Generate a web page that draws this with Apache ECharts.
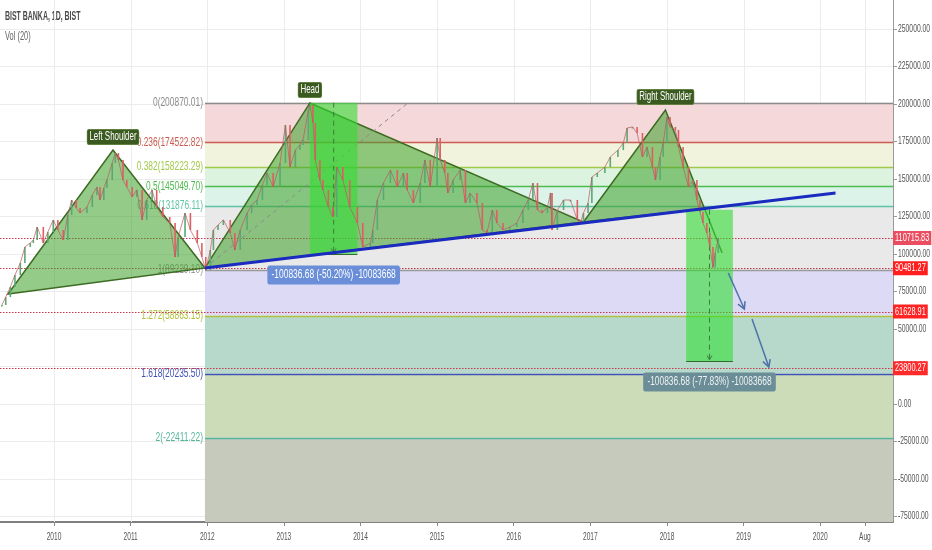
<!DOCTYPE html>
<html><head><meta charset="utf-8">
<script src="https://cdn.jsdelivr.net/npm/echarts@6/dist/echarts.min.js"></script>
<style>html,body{margin:0;padding:0;background:#fff}#c{width:932px;height:550px}</style>
</head><body><div id="c"></div>
<script>
// ---------------- data ----------------
const years = [2009.32,2009.37,2009.43,2009.49,2009.56,2009.62,2009.69,2009.73,2009.78,2009.86,2009.92,2009.99,
2010.05,2010.12,2010.18,2010.23,2010.29,2010.34,2010.43,2010.50,2010.56,2010.60,2010.65,2010.69,2010.76,2010.80,2010.84,2010.90,2010.95,
2011.02,2011.08,2011.15,2011.21,2011.28,2011.34,2011.42,2011.51,2011.58,2011.62,2011.71,2011.78,2011.87,2011.93,2011.98,
2012.04,2012.08,2012.14,2012.21,2012.30,2012.36,2012.43,2012.52,2012.58,2012.65,2012.72,2012.78,2012.86,2012.95,
2013.02,2013.08,2013.15,2013.21,2013.25,2013.32,2013.34,2013.38,2013.41,2013.47,2013.51,2013.58,2013.64,2013.69,2013.77,2013.86,2013.96,
2014.03,2014.13,2014.16,2014.22,2014.30,2014.39,2014.48,2014.56,2014.61,2014.69,2014.78,2014.84,2014.91,
2015.00,2015.04,2015.10,2015.14,2015.21,2015.30,2015.37,2015.43,2015.52,2015.59,2015.65,2015.72,2015.78,2015.86,2015.95,
2016.04,2016.12,2016.19,2016.25,2016.31,2016.37,2016.44,2016.48,2016.50,2016.57,2016.65,2016.74,2016.83,2016.87,2016.91,2016.97,
2017.02,2017.09,2017.19,2017.26,2017.36,2017.43,2017.48,2017.55,2017.61,2017.68,2017.74,2017.81,2017.85,2017.91,2017.95,
2018.00,2018.04,2018.11,2018.15,2018.21,2018.28,2018.34,2018.39,2018.43,2018.47,2018.52,2018.56,2018.60,2018.63,2018.67];
const closes = [66000,71300,78000,86000,94000,104700,107300,109300,118000,107300,114700,122700,
116000,109300,126000,136000,130700,127300,131300,139300,144700,136000,144000,149300,160700,167300,162700,149300,144700,
138000,142700,122700,136000,142700,131300,124700,120700,98000,111300,127300,116000,107300,98000,89300,
102700,116000,119300,122700,114000,102700,116000,127300,132700,136000,146000,154000,144700,160700,
186000,158000,169300,172700,176000,196000,199300,187300,162700,149300,142700,131300,124700,158000,149300,131300,120700,
104700,107300,116000,136000,147300,156000,144700,154000,142700,134000,147300,162700,144700,
177300,162700,154000,140700,149300,156000,134000,140700,134000,116000,114000,129300,120700,116000,118000,
120700,129300,136000,147300,129300,127300,131300,140700,116000,129300,136000,136000,122700,120700,127300,134000,
151300,154000,158000,164700,169300,174000,184000,184700,180700,164700,171300,158000,149300,164700,174000,
191300,184700,182700,171300,158000,144700,149300,136000,128000,120700,114000,104700,91000,100700,110700];

const xTickValues = [2010,2011,2012,2013,2014,2015,2016,2017,2018,2019,2020,2020.583];
const xTickLabels = ['2010','2011','2012','2013','2014','2015','2016','2017','2018','2019','2020','Aug'];
const yTicks = [-75000,-50000,-25000,0,25000,50000,75000,100000,125000,150000,175000,200000,225000,250000];

const fibRatios = ['0','0.236','0.382','0.5','0.618','1','1.272','1.618','2'];
const fibPrices = [200870.01,174522.82,158223.29,145049.70,131876.11,89229.10,58863.15,20235.50,-22411.22];
const fibStart = 2011.97;

const priceLevels = [110715.83, 90481.27, 61628.91, 23800.27];

const leftShoulder = [[2009.40,73300],[2010.77,169300],[2011.97,90700]];
const head = [[2011.97,90700],[2013.34,200700],[2016.91,121300]];
const rightShoulder = [[2016.91,121300],[2017.98,196000],[2018.49,130300]];
const rightShoulderTail = [[2018.49,130300],[2018.72,100700]];
const patternLabels = ['Left Shoulder','Head','Right Shoulder'];
const neckline = [[2011.97,90700],[2020.20,140700]];
const fibTrend = [[2011.97,90700],[2014.62,200700]];

const ranges = [
  {start:2013.34, end:2013.96, top:200870.01, change:-100836.68, label:'-100836.68 (-50.20%) -10083668'},
  {start:2018.25, end:2018.86, top:129560.10, change:-100836.68, label:'-100836.68 (-77.83%) -10083668'}
];
const arrows = [
  [[2018.80,87300],[2019.01,63300]],
  [[2019.11,56700],[2019.33,24700]]
];

// ---------------- styles ----------------
const FONT = '"Liberation Sans", Arial, sans-serif';
const fibLineColors = ['#8c8c8c','#cc5b50','#a3c94a','#4dbb4d','#5cc4a4','#9a9a9a','#b2c23e','#3f51b5','#55b59a'];
const fibBandColors = ['#f4d8da','#f1f3dd','#dcf3df','#dcf3ea','#e9e9e9','#dcdaf5','#b6d9cc','#cddcb8','#c5cabd'];
const priceLabelColors = ['#ea4d60','#ff1e1e','#ff2323','#ff2a2a'];
const X_MIN = 2009.295, X_MAX = 2020.95, Y_MIN = -78667, Y_MAX = 269333;

const chart = echarts.init(document.getElementById('c'));
const single = [[X_MIN, Y_MIN]];

function crisp(v){ return Math.round(v) + 0.5; }
function hLine(api, v, x0, x1, style){
  const a = api.coord([x0, v]), b = api.coord([x1, v]);
  const y = crisp(a[1]);
  return {type:'line', shape:{x1:a[0], y1:y, x2:b[0], y2:y}, style};
}
function arrowHead(p, q, len, color, w){
  const ang = Math.atan2(q[1]-p[1], q[0]-p[0]);
  const a1 = ang + Math.PI*0.84, a2 = ang - Math.PI*0.84;
  return {type:'polyline', shape:{points:[[q[0]+len*Math.cos(a1), q[1]+len*Math.sin(a1)], q, [q[0]+len*Math.cos(a2), q[1]+len*Math.sin(a2)]]},
          style:{stroke:color, fill:null, lineWidth:w}};
}
function txt(x, y, text, opt){
  return {type:'text', x, y, scaleX: opt.scaleX || 1, z2: 10,
    style: Object.assign({text, textAlign: opt.align || 'left', textVerticalAlign: opt.valign || 'middle',
      font: opt.font, fill: opt.fill || '#555'}, opt.box || {})};
}

const series = [
  // grid lines
  {type:'custom', data:single, encode:{x:0,y:1}, clip:true, z:1, silent:true,
   renderItem(params, api){
     const ch = [];
     xTickValues.forEach(t => {
       const a = api.coord([t, Y_MAX]), b = api.coord([t, Y_MIN]);
       const x = crisp(a[0]);
       ch.push({type:'line', shape:{x1:x,y1:a[1],x2:x,y2:b[1]}, style:{stroke:'#ececec', lineWidth:1}});
     });
     yTicks.forEach(v => ch.push(hLine(api, v, X_MIN, X_MAX, {stroke:'#ececec', lineWidth:1})));
     return {type:'group', children:ch};
   }},
  // fibonacci bands, lines and labels
  {type:'custom', data:single, encode:{x:0,y:1}, clip:true, z:2, silent:true,
   renderItem(params, api){
     const ch = [];
     for (let i = 0; i < fibPrices.length; i++){
       const lower = i + 1 < fibPrices.length ? fibPrices[i+1] : Y_MIN;
       const a = api.coord([fibStart, fibPrices[i]]), b = api.coord([X_MAX, lower]);
       ch.push({type:'rect', shape:{x:a[0], y:a[1], width:b[0]-a[0], height:b[1]-a[1]}, style:{fill:fibBandColors[i]}});
     }
     for (let i = 0; i < fibPrices.length; i++){
       ch.push(hLine(api, fibPrices[i], fibStart, X_MAX, {stroke:fibLineColors[i], lineWidth:1.3}));
       const p = api.coord([fibStart, fibPrices[i]]);
       ch.push(txt(p[0]-2, p[1], fibRatios[i] + '(' + fibPrices[i].toFixed(2) + ')',
         {align:'right', font:'12px ' + FONT, fill:fibLineColors[i], scaleX:0.7}));
     }
     return {type:'group', children:ch};
   }},
  // horizontal dotted price lines
  {type:'custom', data:single, encode:{x:0,y:1}, clip:true, z:3, silent:true,
   renderItem(params, api){
     return {type:'group', children: priceLevels.map(v =>
       hLine(api, v, X_MIN, X_MAX, {stroke:'#c8364a', lineWidth:1.2, lineDash:[1.5,1.5]}))};
   }},
  // head & shoulders polygons
  {type:'custom', data:single, encode:{x:0,y:1}, clip:true, z:4, silent:true,
   renderItem(params, api){
     const poly = pts => ({type:'polygon', shape:{points:pts.map(p => api.coord(p))},
       style:{fill:'rgba(60,160,40,0.55)', stroke:'#3d6b22', lineWidth:1.5}});
     const ch = [poly(leftShoulder), poly(head), poly(rightShoulder)];
     const t0 = api.coord(rightShoulderTail[0]), t1 = api.coord(rightShoulderTail[1]);
     ch.push({type:'line', shape:{x1:t0[0],y1:t0[1],x2:t1[0],y2:t1[1]}, style:{stroke:'#3d6b22', lineWidth:1.5}});
     const f0 = api.coord(fibTrend[0]), f1 = api.coord(fibTrend[1]);
     ch.push({type:'line', shape:{x1:f0[0],y1:f0[1],x2:f1[0],y2:f1[1]}, style:{stroke:'#8a8a8a', lineWidth:1, lineDash:[4,4]}});
     return {type:'group', children:ch};
   }},
  // date/price range boxes
  {type:'custom', data:single, encode:{x:0,y:1}, clip:true, z:5, silent:true,
   renderItem(params, api){
     const ch = [];
     ranges.forEach(r => {
       const a = api.coord([r.start, r.top]), b = api.coord([r.end, r.top + r.change]);
       ch.push({type:'rect', shape:{x:a[0], y:a[1], width:b[0]-a[0], height:b[1]-a[1]}, style:{fill:'rgba(50,222,50,0.6)'}});
       ch.push({type:'line', shape:{x1:a[0], y1:crisp(b[1]), x2:b[0], y2:crisp(b[1])}, style:{stroke:'#2f6a2f', lineWidth:1.2}});
       const mx = (a[0] + b[0]) / 2;
       ch.push({type:'line', shape:{x1:mx, y1:a[1], x2:mx, y2:b[1]-1}, style:{stroke:'#3b7d3b', lineWidth:1, lineDash:[5,4]}});
       ch.push(arrowHead([mx, a[1]], [mx, b[1]-1], 5, '#3b7d3b', 1));
     });
     return {type:'group', children:ch};
   }},
  // candles
  {type:'custom', clip:true, z:6, silent:true, encode:{x:0, y:[1,2]},
   data: years.map((t, i) => [t, i ? closes[i-1] : closes[i], closes[i]]),
   renderItem(params, api){
     const t = api.value(0), o = api.value(1), c = api.value(2);
     const p1 = api.coord([t, o]), p2 = api.coord([t, c]);
     const top = Math.min(p1[1], p2[1]), h = Math.max(1.5, Math.abs(p1[1]-p2[1]));
     return {type:'rect', shape:{x:p1[0]-0.8, y:top, width:1.6, height:h}, style:{fill: c >= o ? '#5aa874' : '#de5f62'}};
   }},
  {type:'line', z:6, silent:true, showSymbol:false, data: years.map((t, i) => [t, closes[i]]),
   lineStyle:{color:'rgba(185,90,95,0.7)', width:1}},
  // neckline
  {type:'line', z:7, silent:true, showSymbol:false, data: neckline, lineStyle:{color:'#1b2bbf', width:3}},
  // projection arrows, labels
  {type:'custom', data:single, encode:{x:0,y:1}, clip:false, z:8, silent:true,
   renderItem(params, api){
     const ch = [];
     arrows.forEach(ar => {
       const p = api.coord(ar[0]), q = api.coord(ar[1]);
       ch.push({type:'line', shape:{x1:p[0],y1:p[1],x2:q[0],y2:q[1]}, style:{stroke:'#4d72a8', lineWidth:1.5}});
       ch.push(arrowHead(p, q, 8, '#4d72a8', 1.5));
     });
     [leftShoulder[1], head[1], rightShoulder[1]].forEach((apex, i) => {
       const p = api.coord(apex);
       ch.push(txt(p[0], p[1]-6, patternLabels[i], {align:'center', valign:'bottom', font:'12px ' + FONT, fill:'#ffffff', scaleX:0.66,
         box:{backgroundColor:'#3b5a20', borderColor:'#62803f', borderWidth:1, padding:[1,3,1,3], borderRadius:2}}));
     });
     ranges.forEach((r, i) => {
       const a = api.coord([r.start, r.top]), b = api.coord([r.end, r.top + r.change]);
       ch.push(txt((a[0]+b[0])/2, b[1]+21, r.label, {align:'center', valign:'middle', font:'12px ' + FONT,
         fill: i === 0 ? '#ffffff' : '#eef2f2', scaleX:0.7,
         box:{backgroundColor: i === 0 ? '#6a8fd8' : '#6b8d97', padding:[4,6,3,6], borderRadius:3}}));
     });
     return {type:'group', children:ch};
   }},
  // axis labels drawn narrow, price tags
  {type:'custom', data:single, encode:{x:0,y:1}, clip:false, z:9, silent:true,
   renderItem(params, api){
     const ch = [];
     const right = api.coord([X_MAX, 0])[0];
     const bottom = api.coord([X_MIN, Y_MIN])[1];
     yTicks.forEach(v => {
       const p = api.coord([X_MAX, v]);
       ch.push(txt(right + 5, p[1], v.toFixed(2), {font:'10px ' + FONT, fill:'#555', scaleX:0.68}));
     });
     xTickValues.forEach((t, i) => {
       const p = api.coord([t, Y_MIN]);
       ch.push(txt(p[0], bottom + 15, xTickLabels[i], {align:'center', font:'10px ' + FONT, fill:'#555', scaleX:0.66}));
     });
     priceLevels.forEach((v, i) => {
       const p = api.coord([X_MAX, v]);
       ch.push(txt(right, p[1], v.toFixed(2), {font:'11px ' + FONT, fill:'#ffffff', scaleX:0.67,
         box:{backgroundColor:priceLabelColors[i], padding:[2,3,1,3]}}));
     });
     return {type:'group', children:ch};
   }}
];

chart.setOption({
  animation:false,
  backgroundColor:'#ffffff',
  grid:{left:0, right:39, top:0, bottom:28, containLabel:false},
  xAxis:{type:'value', min:X_MIN, max:X_MAX,
    axisLine:{show:true, onZero:false, lineStyle:{color:'#555', width:1.5}},
    axisTick:{show:true, customValues:xTickValues, length:4, lineStyle:{color:'#888'}},
    axisLabel:{show:false}, splitLine:{show:false}},
  yAxis:{type:'value', position:'right', min:Y_MIN, max:Y_MAX,
    axisLine:{show:true, onZero:false, lineStyle:{color:'#9a9a9a', width:1}},
    axisTick:{show:true, customValues:yTicks, length:4, lineStyle:{color:'#9a9a9a'}},
    axisLabel:{show:false}, splitLine:{show:false}},
  graphic:[
    {type:'text', left:5, top:11, scaleX:0.58, style:{text:'BIST BANKA, 1D, BIST', font:'bold 12px ' + FONT, fill:'#4a4a4a'}},
    {type:'text', left:5, top:31, scaleX:0.62, style:{text:'Vol (20)', font:'12px ' + FONT, fill:'#666'}}
  ],
  series
});
</script>
</body></html>
